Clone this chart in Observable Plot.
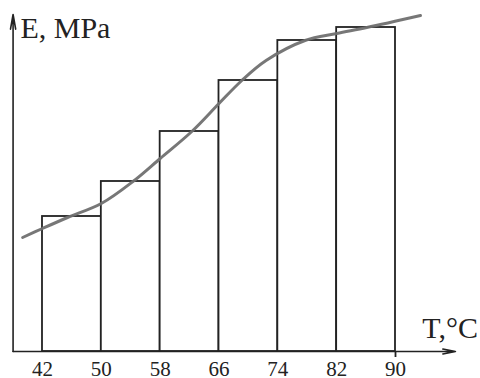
<!DOCTYPE html>
<html>
<head>
<meta charset="utf-8">
<script src="https://cdn.jsdelivr.net/npm/d3@7"></script>
<script src="https://cdn.jsdelivr.net/npm/@observablehq/plot@0.6"></script>
<style>
  html, body { margin: 0; padding: 0; background: #fff; }
  svg { display: block; }
  svg text { font-family: "Liberation Serif", "DejaVu Serif", serif !important; }
</style>
</head>
<body>
<div id="chart"></div>
<script>
// Bar intervals (T, °C) and bar heights (E, arbitrary units)
const binStarts = [42, 50, 58, 66, 74, 82];
const binEnds   = [50, 58, 66, 74, 82, 90];
const barE      = [135, 170, 220, 271, 311, 324];
const tickLabels = [42, 50, 58, 66, 74, 82, 90];

// Smooth fitted curve points
const curveT = [39.3, 42, 45.4, 50, 54.3, 58, 62.3, 66, 69.1, 72.4, 77.7, 82, 86.1, 93.4];
const curveE = [114, 123, 134, 148, 170, 193, 220, 248, 271, 291, 311, 318, 324, 336];

const bars = binStarts.map((s, i) => ({x1: s, x2: binEnds[i], y: barE[i]}));
const curve = curveT.map((t, i) => ({t, e: curveE[i]}));

const xMin = 38, xMax = 98, yMax = 335;
const ink = "#222";
const serif = "Liberation Serif";

const chart = Plot.plot({
  width: 480,
  height: 378,
  marginLeft: 12.58,
  marginRight: 26.17,
  marginTop: 16,
  marginBottom: 27,
  x: {domain: [xMin, xMax]},
  y: {domain: [0, yMax], axis: null},
  style: {background: "#fff", fontFamily: serif},
  marks: [
    Plot.rectY(bars, {x1: "x1", x2: "x2", y: "y", fill: "white", stroke: ink, strokeWidth: 1.8}),
    Plot.line(curve, {x: "t", y: "e", curve: "catmull-rom", stroke: "#707070", strokeWidth: 3, strokeOpacity: 0.95}),
    Plot.ruleX([binEnds[binEnds.length - 1]], {y1: -6, y2: 0, stroke: ink, strokeWidth: 1.8}),
    Plot.arrow([{x1: xMin, y1: 0, x2: xMax + 0.15, y2: 0}], {x1: "x1", y1: "y1", x2: "x2", y2: "y2", stroke: ink, strokeWidth: 1.6, headLength: 12, headAngle: 22}),
    Plot.arrow([{x1: xMin, y1: 0, x2: xMin, y2: yMax + 2}], {x1: "x1", y1: "y1", x2: "x2", y2: "y2", stroke: ink, strokeWidth: 1.6, headLength: 14, headAngle: 20}),
    Plot.axisX({ticks: tickLabels, tickSize: 0, tickPadding: 10, fontSize: 21, fill: ink, tickFormat: d => String(d)}),
    Plot.text(["E, MPa"], {x: 39.0, y: 314, textAnchor: "start", lineAnchor: "bottom", fontSize: 30, fill: ink}),
    Plot.text(["T,°C"], {x: 93.65, y: 14, textAnchor: "start", lineAnchor: "bottom", fontSize: 30, fill: ink})
  ]
});
document.getElementById("chart").appendChild(chart);
</script>
</body>
</html>
